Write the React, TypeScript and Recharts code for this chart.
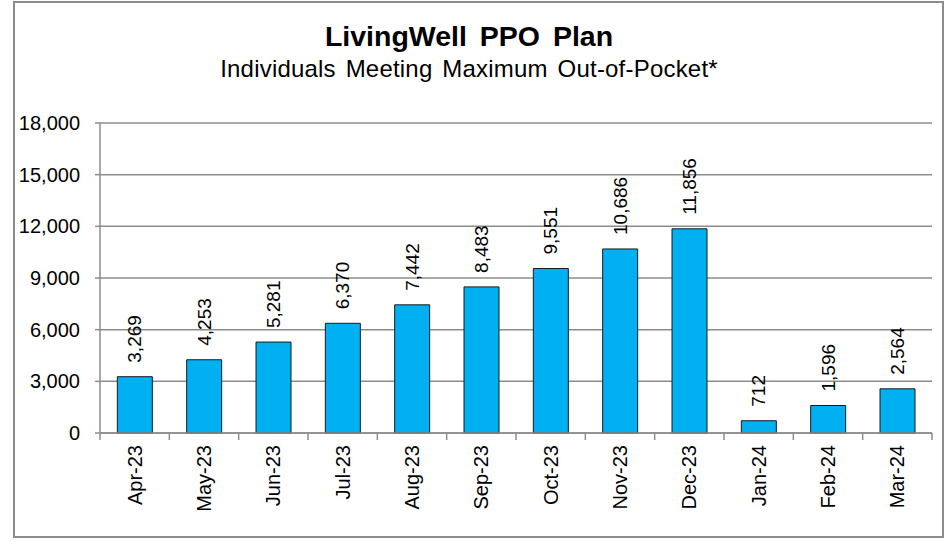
import React from 'react';
import { BarChart, Bar, XAxis, YAxis, CartesianGrid, LabelList } from 'recharts';

const months = ['Apr-23', 'May-23', 'Jun-23', 'Jul-23', 'Aug-23', 'Sep-23', 'Oct-23', 'Nov-23', 'Dec-23', 'Jan-24', 'Feb-24', 'Mar-24'];
const members = [3269, 4253, 5281, 6370, 7442, 8483, 9551, 10686, 11856, 712, 1596, 2564];
const yTicks = [0, 3000, 6000, 9000, 12000, 15000, 18000];

const FONT = '"Liberation Sans", Arial, sans-serif';
const W = 947;
const H = 545;
const margin = { top: 123, right: 15, bottom: 42, left: 10 };
const yAxisWidth = 90;
const plotWidth = W - margin.left - margin.right - yAxisWidth;
const half = plotWidth / months.length / 2;

const fmt = (v: number) => v.toLocaleString('en-US');

const XTick = (props: any) => {
  const { x, y, payload, index } = props;
  return (
    <g>
      <line x1={x - half} x2={x - half} y1={y} y2={y + 7} stroke="#8c8c8c" strokeWidth={1.5} />
      {index === months.length - 1 && (
        <line x1={x + half} x2={x + half} y1={y} y2={y + 7} stroke="#8c8c8c" strokeWidth={1.5} />
      )}
      <text
        x={x}
        y={y + 12}
        transform={`rotate(-90, ${x}, ${y + 12})`}
        textAnchor="end"
        dominantBaseline="central"
        fontSize={20}
        fontFamily={FONT}
        fill="#000"
      >
        {payload.value}
      </text>
    </g>
  );
};

const ValueLabel = (props: any) => {
  const { x, y, width, value } = props;
  const cx = x + width / 2;
  const ty = y - 14;
  return (
    <text
      x={cx}
      y={ty}
      transform={`rotate(-90, ${cx}, ${ty})`}
      textAnchor="start"
      dominantBaseline="central"
      fontSize={19}
      fontFamily={FONT}
      fill="#000"
    >
      {fmt(value)}
    </text>
  );
};

const App: React.FC = () => {
  const data = months.map((m, i) => ({ month: m, count: members[i] }));

  return (
    <div style={{ position: 'absolute', left: 0, top: 0, width: W, height: H, background: '#fff' }}>
      <div
        style={{
          position: 'absolute',
          left: 13,
          top: 1,
          width: 931,
          height: 537,
          boxSizing: 'border-box',
          border: '2px solid #8c8c8c',
        }}
      />
      <svg width={W} height={90} style={{ position: 'absolute', left: 0, top: 0 }}>
        <text
          x={469}
          y={46}
          textAnchor="middle"
          fontSize={28.5}
          fontWeight="bold"
          fontFamily={FONT}
          fill="#000"
          style={{ wordSpacing: 5 }}
        >
          LivingWell PPO Plan
        </text>
        <text
          x={469}
          y={77}
          textAnchor="middle"
          fontSize={24}
          fontFamily={FONT}
          fill="#000"
          style={{ wordSpacing: 3, letterSpacing: 0.2 }}
        >
          Individuals Meeting Maximum Out-of-Pocket*
        </text>
      </svg>
      <div style={{ position: 'absolute', left: 0, top: 0 }}>
        <BarChart width={W} height={H} data={data} margin={margin} barCategoryGap="25%">
          <CartesianGrid vertical={false} stroke="#8c8c8c" strokeWidth={1.5} />
          <XAxis
            dataKey="month"
            height={70}
            interval={0}
            tickSize={0}
            tickMargin={0}
            tick={<XTick />}
            axisLine={{ stroke: '#8c8c8c', strokeWidth: 1.5 }}
            tickLine={false}
          />
          <YAxis
            width={yAxisWidth}
            domain={[0, 18000]}
            ticks={yTicks}
            tickFormatter={fmt}
            tickSize={5}
            tickMargin={15}
            tick={{ fontSize: 20, fontFamily: FONT, fill: '#000' }}
            axisLine={{ stroke: '#8c8c8c', strokeWidth: 1.5 }}
            tickLine={{ stroke: '#8c8c8c', strokeWidth: 1.5 }}
          />
          <Bar dataKey="count" fill="#00b0f0" stroke="#1a1a1a" strokeWidth={1} isAnimationActive={false}>
            <LabelList dataKey="count" content={<ValueLabel />} />
          </Bar>
        </BarChart>
      </div>
    </div>
  );
};

export default App;
